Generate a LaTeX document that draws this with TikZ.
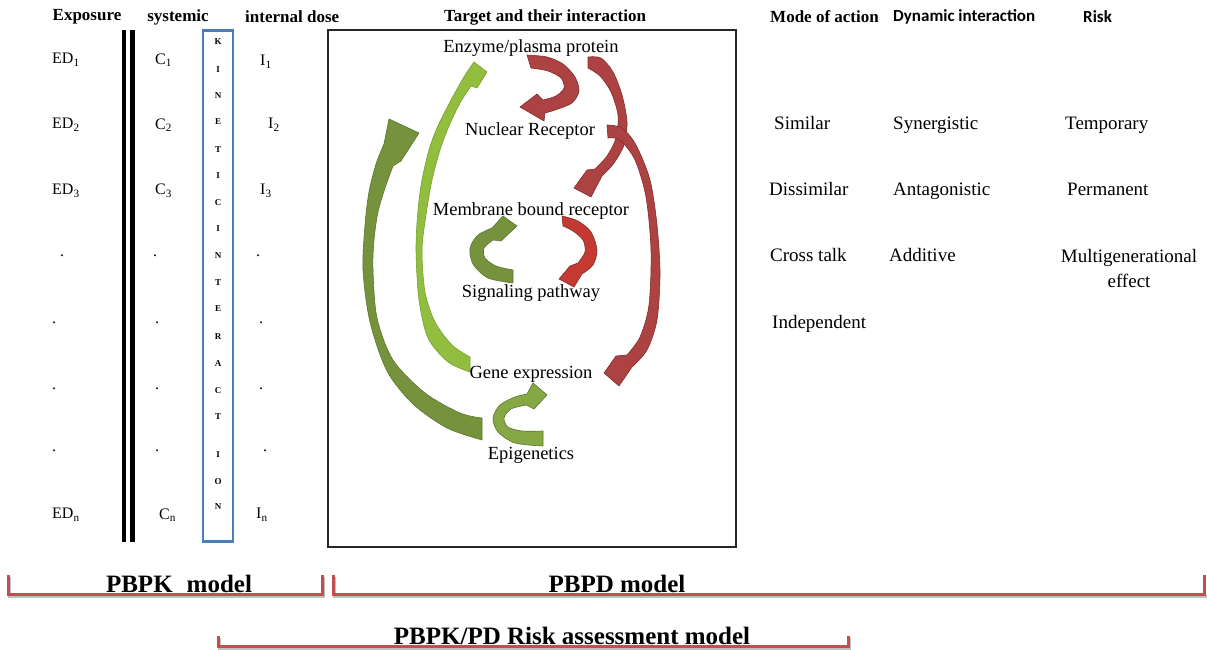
\documentclass[tikz,border=0pt]{standalone}
\usepackage{fontspec}
\setmainfont{Liberation Serif}
\newfontfamily\calibf{Carlito}
\definecolor{kblue}{RGB}{74,126,187}
\definecolor{brkred}{RGB}{192,80,77}
\definecolor{dgreen}{RGB}{118,146,60}
\definecolor{dgreenline}{RGB}{90,118,44}
\definecolor{lgreen}{RGB}{146,190,64}
\definecolor{lgreenline}{RGB}{118,160,48}
\definecolor{mgreen}{RGB}{134,168,68}
\definecolor{dred}{RGB}{172,66,66}
\definecolor{dredline}{RGB}{132,44,44}
\definecolor{bred}{RGB}{196,58,50}
\begin{document}
\begin{tikzpicture}[x=1pt,y=-1pt,
  hdr/.style={font=\fontsize{17}{20}\selectfont\bfseries, inner sep=0pt},
  hdrs/.style={font=\fontsize{17}{20}\selectfont\calibf\bfseries, inner sep=0pt},
  lt/.style={font=\fontsize{16}{19}\selectfont, inner sep=0pt, anchor=west},
  dotlab/.style={font=\fontsize{16}{19}\selectfont, inner sep=0pt},
  kin/.style={font=\fontsize{9}{10}\selectfont\bfseries, inner sep=0pt},
  txt/.style={font=\fontsize{18.5}{22}\selectfont, inner sep=0pt},
  rt/.style={font=\fontsize{19}{25}\selectfont, inner sep=0pt, anchor=base west},
  blab/.style={font=\fontsize{25}{28}\selectfont\bfseries, inner sep=0pt, anchor=base},
  brk/.style={draw=brkred, line width=3pt},
  brkshadow/.style={draw=black!25, line width=3.5pt},
  garrow/.style={fill=dgreen, draw=dgreenline, line width=0.6pt},
  larrow/.style={fill=lgreen, draw=lgreenline, line width=0.6pt},
  marrow/.style={fill=mgreen, draw=dgreenline, line width=0.6pt},
  rarrow/.style={fill=dred, draw=dredline, line width=0.6pt},
  brarrow/.style={fill=bred, draw=dredline, line width=0.6pt}
]
\fill[white] (0,0) rectangle (1207,650);
\useasboundingbox (0,0) rectangle (1207,650);

% headers
\node[hdr] (hExp) at (87,17) {Exposure};
\node[hdr] (hSys) at (178,17) {systemic};
\node[hdr,anchor=west] (hInt) at (245,17) {internal dose};
\node[hdr] (hTgt) at (545,17) {Target and their interaction};
\node[hdr,anchor=west] (hMode) at (770,17) {Mode of action};
\node[hdrs,anchor=west] (hDyn) at (893,17) {Dynamic interaction};
\node[hdrs,anchor=west] (hRisk) at (1083,17) {Risk};

% double bar
\draw[line width=4.5pt] (124,30) -- (124,542);
\draw[line width=4.5pt] (132.5,30) -- (132.5,542);

% kinetic interaction box
\node[draw=kblue, line width=2.8pt, minimum width=30pt, minimum height=511pt, inner sep=0pt] (kinbox) at (218,286) {};
\foreach \l/\yy in {K/42, I/70, N/96, E/122, T/150, I/176, C/203, I/229, N/256, T/283, E/309, R/337, A/364, C/391, T/417, I/455, O/482, N/507}
  \node[kin] (k\yy) at (218,\yy) {\l};

% main box
\node[draw=black!85, line width=1.2pt, minimum width=408pt, minimum height=517pt, inner sep=0pt] (tbox) at (532,288.5) {};

% left columns
\node[lt] (ed1) at (52,60) {ED\textsubscript{1}};
\node[lt] (ed2) at (52,125) {ED\textsubscript{2}};
\node[lt] (ed3) at (52,191) {ED\textsubscript{3}};
\node[dotlab] (edd1) at (62,256) {.};
\node[dotlab] (edd2) at (54,323) {.};
\node[dotlab] (edd3) at (54,389) {.};
\node[dotlab] (edd4) at (54,451) {.};
\node[lt] (edn) at (52,515) {ED\textsubscript{n}};

\node[lt] (c1) at (155,60) {C\textsubscript{1}};
\node[lt] (c2) at (155,125) {C\textsubscript{2}};
\node[lt] (c3) at (155,191) {C\textsubscript{3}};
\node[dotlab] (cd1) at (155,256) {.};
\node[dotlab] (cd2) at (157,323) {.};
\node[dotlab] (cd3) at (157,389) {.};
\node[dotlab] (cd4) at (157,451) {.};
\node[lt] (cn) at (159,515) {C\textsubscript{n}};

\node[lt] (i1) at (260,62) {I\textsubscript{1}};
\node[lt] (i2) at (268,125) {I\textsubscript{2}};
\node[lt] (i3) at (260,191) {I\textsubscript{3}};
\node[dotlab] (id1) at (258,256) {.};
\node[dotlab] (id2) at (261,323) {.};
\node[dotlab] (id3) at (261,389) {.};
\node[dotlab] (id4) at (265,451) {.};
\node[lt] (in) at (256,515) {I\textsubscript{n}};

% ---- arrows in the box ----
% A: big dark green, Epigenetics -> up
\path[garrow] plot[smooth] coordinates {(482,440) (447,428) (413,404) (387,371) (370,322) (363,270) (365,225) (369,192) (376,164) (384,144)}
  -- (389,119) -- (419,133) -- (401,161)
  -- plot[smooth] coordinates {(393,166) (385,188) (378,212) (374,240) (373,270) (377,318) (393,360) (425,393) (460,413) (482,418)} -- cycle;
% B: long light green, Gene expression -> Enzyme
\path[larrow] plot[smooth] coordinates {(470,372) (448,362) (428,338) (419,300) (416,250) (418,210) (422,180) (429,150) (437,128) (450,102) (461,82) (467,72)}
  -- (474,62) -- (487,72) -- (477,88)
  -- plot[smooth] coordinates {(471,86) (460,103) (449,126) (440,150) (432,180) (426,215) (422,250) (425,292) (435,322) (452,345) (470,357)} -- cycle;
% C: red small, Enzyme -> Nuclear receptor
\path[rarrow] plot[smooth] coordinates {(527,55) (547,57) (563,64) (575,77) (579,91) (572,103) (555,110) (545,113)}
  -- (544,121) -- (520,107) -- (537,94)
  -- plot[smooth] coordinates {(543,100) (556,96) (564,88) (561,78) (548,71) (531,68)} -- cycle;
% D: red, Enzyme -> Membrane bound receptor
\path[rarrow] plot[smooth] coordinates {(588,57) (601,58) (613,72) (622,95) (627,122) (624,145) (614,163) (602,176)}
  -- (591,197) -- (574,188) -- (587,170)
  -- plot[smooth] coordinates {(595,169) (607,156) (616,138) (618,115) (611,92) (600,76) (588,68)} -- cycle;
% E: red long, Nuclear receptor -> Gene expression
\path[rarrow] plot[smooth] coordinates {(607,125) (622,128) (636,145) (650,180) (657,225) (660,273) (657,320) (647,350) (632,367)}
  -- (619,386) -- (604,373) -- (616,356)
  -- plot[smooth] coordinates {(627,355) (640,337) (649,305) (651,250) (646,197) (635,160) (620,140) (608,138)} -- cycle;
% F: bright red, Membrane -> Signaling
\path[brarrow] plot[smooth] coordinates {(562,216) (578,221) (591,232) (597,250) (593,265) (582,274)}
  -- (574,287) -- (559,279) -- (570,266)
  -- plot[smooth] coordinates {(578,263) (585,252) (583,240) (573,231) (563,226)} -- cycle;
% G: green, Signaling -> Membrane
\path[garrow] plot[smooth] coordinates {(513,283) (488,278) (473,264) (470,248) (478,235) (492,228)}
  -- (503,216) -- (517,226) -- (501,241)
  -- plot[smooth] coordinates {(493,240) (484,248) (485,258) (496,266) (513,270)} -- cycle;
% H: green, Epigenetics -> Gene expression
\path[marrow] plot[smooth] coordinates {(543,446) (515,443) (498,432) (493,418) (500,405) (515,397) (527,394)}
  -- (533,383) -- (547,395) -- (534,409)
  -- plot[smooth] coordinates {(526,405) (511,409) (504,418) (508,427) (522,431) (543,431)} -- cycle;

% box labels
\node[txt] (enz) at (531,48) {Enzyme/plasma protein};
\node[txt] (nuc) at (530,131) {Nuclear Receptor};
\node[txt] (mem) at (531,211) {Membrane bound receptor};
\node[txt] (sig) at (531,293) {Signaling pathway};
\node[txt] (gene) at (531,374) {Gene expression};
\node[txt] (epi) at (531,455) {Epigenetics};

% right columns
\node[rt] (sim) at (774,129) {Similar};
\node[rt] (syn) at (893,129) {Synergistic};
\node[rt] (tem) at (1065,129) {Temporary};
\node[rt] (dis) at (769,195) {Dissimilar};
\node[rt] (ant) at (893,195) {Antagonistic};
\node[rt] (per) at (1067,195) {Permanent};
\node[rt] (cro) at (770,261) {Cross talk};
\node[rt] (add) at (889,261) {Additive};
\node[font=\fontsize{19}{25}\selectfont, inner sep=0pt, align=center] (mul) at (1129,268.5) {Multigenerational\\effect};
\node[rt] (ind) at (772,328) {Independent};

% brackets
\draw[brkshadow] (9.5,577) -- (9.5,596.5) -- (323.5,596.5) -- (323.5,577);
\draw[brk] (8,575) -- (8,594) -- (322,594) -- (322,575);
\draw[brkshadow] (334.5,577) -- (334.5,596.5) -- (1207,596.5);
\draw[brk] (333,575) -- (333,594) -- (1204,594) -- (1204,575);
\draw[brkshadow] (219.5,638) -- (219.5,648) -- (849.5,648) -- (849.5,638);
\draw[brk] (218,636) -- (218,646) -- (848,646) -- (848,636);

\node[blab] (pbpk) at (179,592) {PBPK\hspace{14pt}model};
\node[blab] (pbpd) at (617,592) {PBPD model};
\node[blab] (risk) at (572,644) {PBPK/PD Risk assessment model};
\end{tikzpicture}
\end{document}
